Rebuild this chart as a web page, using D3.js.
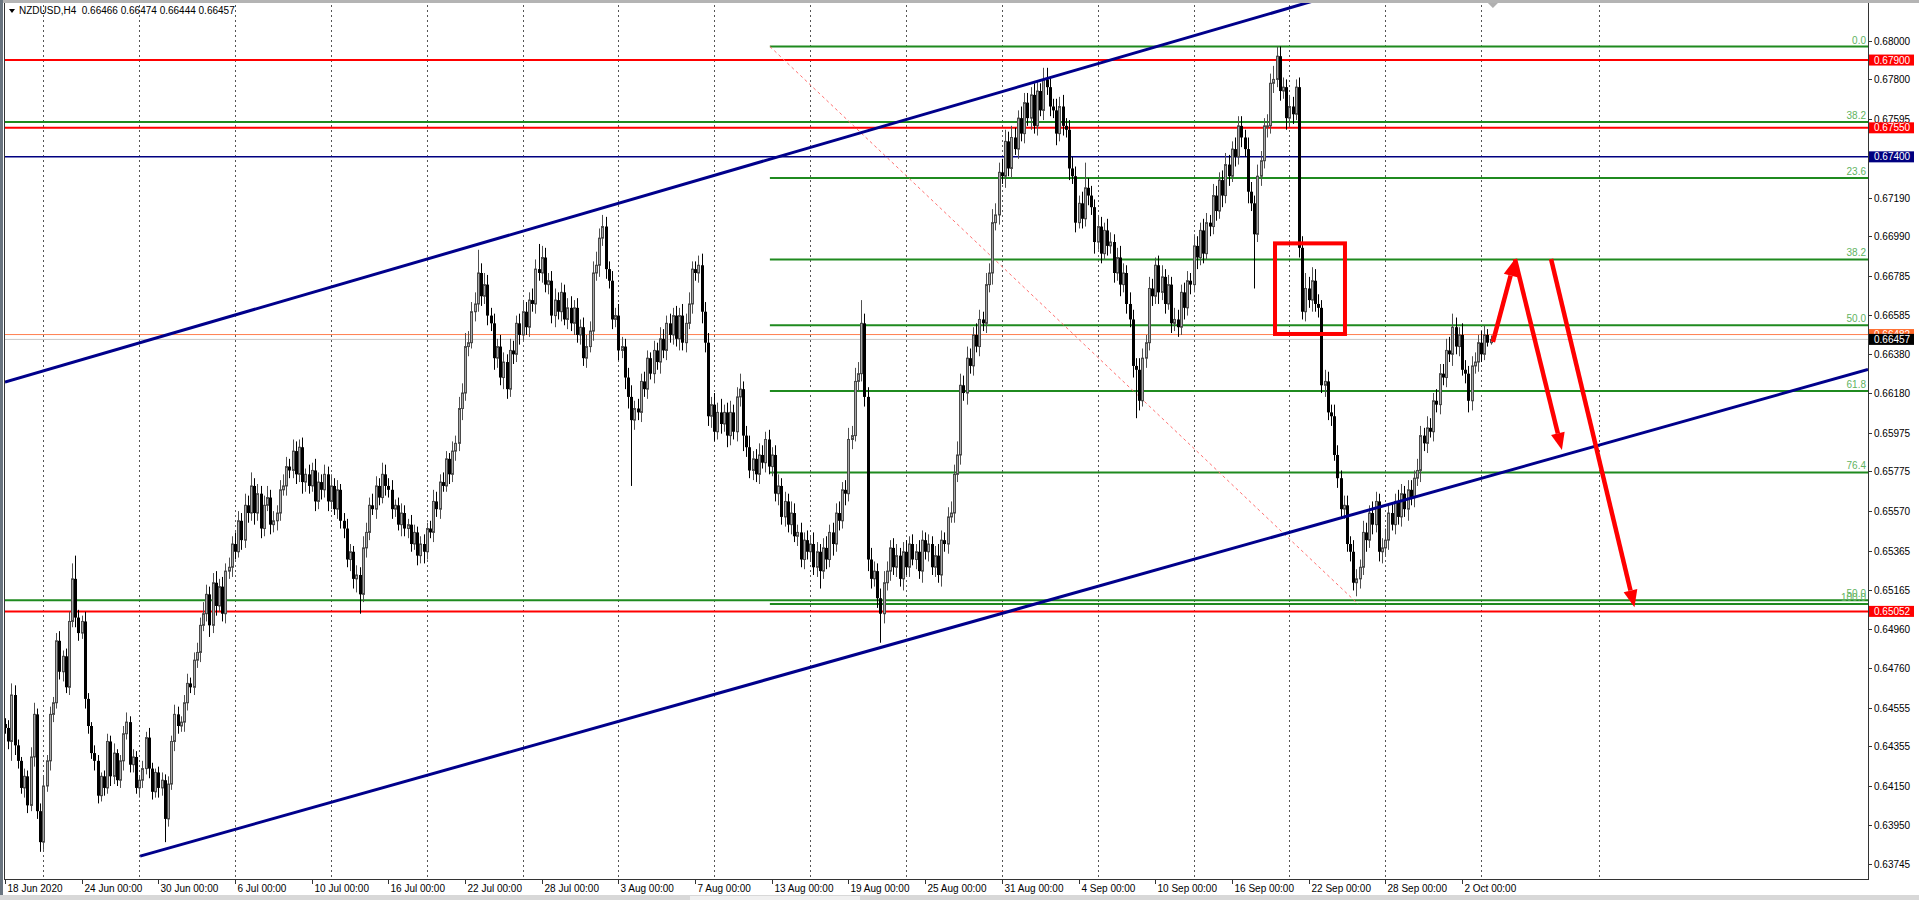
<!DOCTYPE html>
<html><head><meta charset="utf-8">
<script src="https://cdn.jsdelivr.net/npm/d3@7"></script>
<style>body{margin:0;background:#fff;overflow:hidden} text{font-family:"Liberation Sans",Arial,sans-serif}</style>
</head><body><svg id="c" width="1919" height="900"></svg>
<script>
// ---------------- DATA ----------------
const symbolTitle = "NZDUSD,H4  0.66466 0.66474 0.66444 0.66457";
const firstOpen = 6447; // pips (x 1e-4)
const closePips = [
6445,6438,6462,6436,6428,6414,6420,6405,6430,6452,
6402,6386,6415,6428,6452,6458,6490,6474,6482,6466,
6500,6522,6502,6494,6500,6460,6446,6432,6428,6410,
6420,6414,6438,6420,6432,6418,6428,6442,6448,6426,
6430,6414,6418,6424,6440,6424,6412,6422,6414,6418,
6398,6416,6438,6452,6446,6448,6458,6468,6466,6480,
6484,6498,6504,6514,6498,6520,6508,6518,6504,6526,
6528,6540,6536,6552,6542,6560,6556,6570,6556,6566,
6548,6560,6564,6550,6552,6556,6568,6570,6580,6578,
6588,6576,6590,6572,6576,6570,6578,6562,6572,6568,
6576,6562,6570,6558,6568,6552,6548,6532,6536,6522,
6524,6514,6538,6546,6560,6558,6570,6564,6576,6570,
6568,6558,6560,6550,6556,6548,6550,6540,6546,6534,
6540,6536,6548,6546,6562,6558,6572,6570,6584,6576,
6588,6592,6610,6618,6642,6644,6660,6664,6680,6668,
6674,6658,6654,6636,6642,6626,6634,6620,6640,6638,
6654,6648,6660,6652,6666,6664,6682,6680,6688,6674,
6676,6658,6666,6660,6670,6656,6662,6654,6662,6648,
6652,6636,6642,6650,6680,6684,6698,6704,6682,6676,
6656,6658,6640,6642,6626,6616,6604,6610,6608,6624,
6620,6636,6628,6640,6634,6646,6640,6654,6648,6658,
6646,6658,6644,6654,6664,6682,6680,6684,6660,6644,
6606,6612,6598,6608,6602,6608,6596,6608,6598,6616,
6620,6596,6590,6578,6584,6576,6586,6582,6594,6580,
6586,6566,6570,6554,6562,6550,6556,6544,6546,6532,
6542,6536,6540,6528,6536,6526,6538,6532,6546,6540,
6556,6552,6568,6566,6594,6596,6624,6628,6654,6616,
6532,6522,6526,6512,6504,6520,6526,6538,6528,6534,
6522,6536,6528,6540,6532,6536,6526,6542,6536,6540,
6528,6534,6524,6542,6540,6554,6556,6576,6586,6622,
6618,6636,6632,6648,6642,6656,6654,6674,6680,6706,
6710,6732,6730,6748,6734,6750,6744,6760,6752,6768,
6760,6772,6756,6774,6764,6780,6776,6766,6764,6752,
6766,6756,6754,6734,6730,6706,6716,6708,6724,6720,
6714,6696,6704,6690,6702,6694,6696,6680,6688,6674,
6680,6664,6656,6632,6630,6614,6636,6644,6672,6668,
6684,6670,6678,6664,6674,6654,6656,6652,6670,6662,
6676,6674,6694,6688,6702,6690,6706,6704,6720,6712,
6728,6720,6736,6730,6744,6740,6756,6750,6744,6722,
6716,6700,6730,6738,6756,6756,6778,6780,6792,6774,
6776,6760,6766,6762,6776,6693,6660,6672,6666,6676,
6664,6662,6622,6624,6608,6606,6586,6574,6558,6560,
6540,6536,6520,6522,6528,6546,6542,6556,6550,6562,
6536,6538,6542,6556,6550,6562,6554,6566,6558,6568,
6564,6574,6578,6596,6592,6600,6598,6614,6612,6628,
6626,6640,6638,6652,6642,6648,6630,6628,6614,6632,
6634,6644,6638,6648,6644,6645.7];
const wickUp = [
3,4,6,5,3,2,4,3,5,6, 3,4,5,3,4,3,4,5,3,4, 5,8,12,4,3,5,3,2,4,3, 2,3,4,3,5,2,3,4,5,3,
4,3,2,4,3,5,3,2,3,4, 3,4,3,5,4,3,4,5,3,4, 5,4,6,5,4,5,6,4,5,4, 5,4,6,5,4,6,5,7,4,5,
4,5,6,4,5,4,5,6,5,4, 6,5,4,5,3,5,4,6,5,4, 5,4,6,4,5,3,4,5,4,3, 5,4,6,5,4,6,5,4,6,5,
4,5,3,4,5,4,3,5,4,3, 4,5,3,4,6,5,4,5,4,3, 5,4,6,5,7,6,5,6,12,5, 6,5,4,5,4,6,5,4,6,5,
4,5,6,5,4,6,5,13,6,5, 4,5,6,4,5,4,5,6,4,5, 4,5,6,5,6,7,5,6,5,4, 5,4,6,5,4,5,6,4,5,4,
5,4,3,5,4,6,5,4,5,4, 5,4,6,5,6,4,4,5,6,5, 5,4,6,5,7,4,5,6,4,5, 8,4,5,6,4,5,6,5,4,5,
4,5,6,4,5,4,6,5,4,5, 4,5,4,6,5,4,5,6,4,5, 5,6,4,5,6,5,7,6,12,5, 5,6,5,4,5,6,5,4,5,6,
4,5,6,4,5,4,6,5,4,5, 4,5,6,5,4,5,6,5,7,6, 5,6,5,4,6,5,4,6,5,7, 6,5,7,6,5,6,5,4,6,5,
5,4,6,5,4,6,6,5,4,6, 5,6,4,5,6,5,4,6,13,5, 5,4,6,5,4,6,5,4,5,6, 5,4,6,5,4,6,5,4,6,5,
4,5,6,4,5,4,6,5,4,5, 5,4,6,5,4,6,5,4,6,5, 4,5,6,5,4,6,5,5,4,6, 5,4,6,5,4,6,5,7,5,5,
5,4,6,5,4,5,6,8,6,7, 6,5,4,6,5,4,6,5,4,5, 5,4,6,5,4,6,5,4,6,5, 4,5,6,4,5,4,6,5,4,5,
5,4,6,5,4,6,5,4,6,5, 5,6,7,7,5,4,6,5,4,5, 5,4,6,5,3,2];
const wickDn = [
3,4,10,5,4,3,5,4,3,5, 4,5,4,3,5,4,3,4,5,3, 4,3,5,4,3,5,4,3,5,4, 3,4,3,5,4,3,4,5,3,4,
4,3,5,4,3,5,4,3,5,4, 12,4,3,5,4,3,5,4,3,4, 4,5,3,4,6,4,5,3,4,5, 4,5,4,3,5,4,5,4,6,4,
5,4,3,5,4,5,4,3,5,4, 4,5,4,6,5,4,3,5,4,5, 4,5,4,3,5,4,5,4,6,5, 7,10,4,5,4,3,5,4,3,5,
4,5,4,3,6,4,5,4,3,5, 4,6,4,3,5,4,5,3,3,5, 4,5,4,6,4,5,3,5,4,5, 4,5,4,6,5,4,6,5,4,5,
4,5,3,4,5,4,5,4,5,4, 5,4,6,4,5,3,5,4,6,4, 5,4,5,3,5,4,6,4,5,4, 5,4,5,4,6,6,34,5,4,5,
4,5,3,5,4,6,4,5,4,5, 4,6,4,5,3,5,4,5,6,5, 5,6,5,4,5,4,6,5,4,5, 5,8,5,4,5,4,5,3,5,4,
5,4,6,4,5,4,5,3,5,4, 5,4,5,4,5,9,4,5,4,6, 4,5,4,6,4,5,3,5,4,5, 6,5,4,5,15,5,4,5,4,5,
4,6,4,5,3,5,4,6,4,5, 4,5,4,6,4,5,3,5,4,5, 4,6,4,5,3,5,4,5,4,6, 4,5,4,6,4,5,3,5,4,5,
4,6,4,5,3,5,4,5,4,6, 4,5,4,6,4,5,3,5,4,5, 4,6,4,5,3,5,4,5,4,6, 4,5,4,6,25,5,3,5,4,5,
4,6,4,5,3,5,4,5,4,6, 4,5,4,6,4,5,3,5,4,5, 4,6,4,5,3,5,4,5,4,6, 4,28,4,5,4,6,4,5,4,5,
4,6,4,5,3,5,4,5,4,6, 4,5,4,6,4,5,3,5,4,5, 4,5,4,7,5,4,6,4,5,4, 5,6,4,5,3,5,4,5,4,6,
4,5,4,6,4,5,3,5,4,5, 4,5,4,6,4,5,3,5,6,5, 4,5,4,3,2,1];

const dateLabels = ["18 Jun 2020","24 Jun 00:00","30 Jun 00:00","6 Jul 00:00","10 Jul 00:00","16 Jul 00:00",
  "22 Jul 00:00","28 Jul 00:00","3 Aug 00:00","7 Aug 00:00","13 Aug 00:00","19 Aug 00:00","25 Aug 00:00",
  "31 Aug 00:00","4 Sep 00:00","10 Sep 00:00","16 Sep 00:00","22 Sep 00:00","28 Sep 00:00","2 Oct 00:00"];
const dateLabelBars = [0,24,48,72,96,120,144,168,192,216,240,264,288,312,336,360,384,408,432,456];
const gridBars = [12,42,72,102,132,162,192,222,252,282,312,342,372,402,432,462,499];
const priceTicks = ["0.68000","0.67800","0.67595","0.67395","0.67190","0.66990","0.66785","0.66585","0.66380",
  "0.66180","0.65975","0.65775","0.65570","0.65365","0.65165","0.64960","0.64760","0.64555","0.64355",
  "0.64150","0.63950","0.63745"];

const hLinePrices = [0.67900, 0.67550, 0.67400, 0.65052, 0.66482, 0.66457];
const priceBoxValues = ["0.67900","0.67550","0.67400","0.66482","0.66457","0.65052"];

const fibLevels = [0, 23.6, 38.2, 50.0, 61.8, 76.4, 100.0];
const fibLevelText = ["0.0","23.6","38.2","50.0","61.8","76.4","100.0"];
const fibBars = [239.4, 423.5];
const fibPrices = [0.6797, 0.6509];
const fib2Prices = [0.67580, 0.65110];
const fib2Text = ["38.2","50.0"];

const upperChannelBars = [0, 406.3];
const upperChannelPrices = [0.66237, 0.68190];
const lowerChannelBars = [42.3, 583.1];
const lowerChannelPrices = [0.63788, 0.66302];

const boxBars = [397.5, 419.4];
const boxPrices = [0.66953, 0.66485];
const arrowFromBars = [465.7, 472.6, 483.9];
const arrowFromPrices = [0.66444, 0.66872, 0.66872];
const arrowToBars = [472.6, 487.3, 510.0];
const arrowToPrices = [0.66872, 0.65886, 0.65074];
const shiftBar = 465.7;

// ---------------- DRAW ----------------
const W = 1919, H = 900;
const L = 5, R = 1868, T = 5, B = 879;
const svg = d3.select("#c");
const x = d3.scaleLinear().domain([0, 583.1]).range([L, R]);
const y = d3.scaleLinear().domain([0.636696, 0.681844]).range([B, T]);

svg.append("rect").attr("width", W).attr("height", H).attr("fill", "#fff");
// window chrome
svg.append("rect").attr("x",0).attr("y",0).attr("width",W).attr("height",3).attr("fill","#b4b4b4");
svg.append("rect").attr("x",0).attr("y",0).attr("width",3).attr("height",H).attr("fill","#6a7580");
svg.append("rect").attr("x",0).attr("y",895).attr("width",W).attr("height",5).attr("fill","#d8d8d8");
svg.append("rect").attr("x",690).attr("y",896).attr("width",170).attr("height",4).attr("fill","#f0f0f0");

svg.append("defs").append("clipPath").attr("id","plot")
  .append("rect").attr("x",L).attr("y",T-2).attr("width",R-L).attr("height",B-T+2);
const g = svg.append("g").attr("clip-path","url(#plot)");

// grid
g.selectAll("line.grid").data(gridBars).join("line")
  .attr("x1", d=>Math.round(x(d))+0.5).attr("x2", d=>Math.round(x(d))+0.5)
  .attr("y1", T).attr("y2", B)
  .attr("stroke","#555").attr("stroke-width",1).attr("stroke-dasharray","2,3");

// horizontal level lines
const hStyles = [
  {c:"#ff0000",w:2},{c:"#ff0000",w:2},{c:"#000080",w:1.5},{c:"#ff0000",w:2},{c:"#ff7f50",w:1},{c:"#c8c8c8",w:1}];
hLinePrices.forEach((p,k)=>{
  g.append("line").attr("x1",L).attr("x2",R).attr("y1",y(p)).attr("y2",y(p))
    .attr("stroke",hStyles[k].c).attr("stroke-width",hStyles[k].w);
});

// fib 2 (full width)
fib2Prices.forEach(p=>{
  g.append("line").attr("x1",L).attr("x2",R).attr("y1",y(p)).attr("y2",y(p))
    .attr("stroke","#1f8a1f").attr("stroke-width",2);
});
// fib 1
const fibPrice = lv => fibPrices[0] + (fibPrices[1]-fibPrices[0])*lv/100;
fibLevels.forEach(lv=>{
  g.append("line").attr("x1",x(fibBars[0])).attr("x2",R).attr("y1",y(fibPrice(lv))).attr("y2",y(fibPrice(lv)))
    .attr("stroke","#1f8a1f").attr("stroke-width",2);
});
g.append("line").attr("x1",x(fibBars[0])).attr("y1",y(fibPrices[0]))
  .attr("x2",x(fibBars[1])).attr("y2",y(fibPrices[1]))
  .attr("stroke","#ff7070").attr("stroke-width",1).attr("stroke-dasharray","3,3");

// candles
const candles = closePips.map((c,i)=>{
  const o = i===0 ? firstOpen : closePips[i-1];
  return {i, o:o/1e4, c:c/1e4, h:(Math.max(o,c)+wickUp[i])/1e4, l:(Math.min(o,c)-wickDn[i])/1e4};
});
const cg = g.append("g");
candles.forEach(d=>{
  const cx = Math.round(x(d.i));
  const bull = d.c >= d.o;
  cg.append("line").attr("x1",cx+0.5).attr("x2",cx+0.5).attr("y1",y(d.h)).attr("y2",y(d.l))
    .attr("stroke", bull ? "#505050" : "#000").attr("stroke-width",1);
  const top = y(Math.max(d.o,d.c)), bot = y(Math.min(d.o,d.c));
  const hgt = Math.max(1, bot-top);
  if (bull) {
    cg.append("rect").attr("x",cx-0.5).attr("y",top).attr("width",2).attr("height",hgt)
      .attr("fill","#a8a8a8").attr("stroke","#4a4a4a").attr("stroke-width",1);
  } else {
    cg.append("rect").attr("x",cx-1).attr("y",top).attr("width",3).attr("height",hgt).attr("fill","#000");
  }
});

// channel lines
function extLine(bars, prices, b0, b1){
  const s = (prices[1]-prices[0])/(bars[1]-bars[0]);
  return [[x(b0), y(prices[0]+s*(b0-bars[0]))],[x(b1), y(prices[0]+s*(b1-bars[0]))]];
}
const up = extLine(upperChannelBars, upperChannelPrices, upperChannelBars[0], upperChannelBars[1]+3);
const lo = extLine(lowerChannelBars, lowerChannelPrices, lowerChannelBars[0], lowerChannelBars[1]);
[up, lo].forEach(pts=>{
  g.append("line").attr("x1",pts[0][0]).attr("y1",pts[0][1]).attr("x2",pts[1][0]).attr("y2",pts[1][1])
    .attr("stroke","#00008b").attr("stroke-width",3);
});

// red box
g.append("rect").attr("x",x(boxBars[0])).attr("y",y(boxPrices[0]))
  .attr("width",x(boxBars[1])-x(boxBars[0])).attr("height",y(boxPrices[1])-y(boxPrices[0]))
  .attr("fill","none").attr("stroke","#ff0000").attr("stroke-width",4);

// arrows
arrowFromBars.forEach((b,k)=>{
  const x1=x(b), y1=y(arrowFromPrices[k]), x2=x(arrowToBars[k]), y2=y(arrowToPrices[k]);
  const ang = Math.atan2(y2-y1, x2-x1);
  const hl = 17, hw = 7;
  const bx = x2 - hl*Math.cos(ang), by = y2 - hl*Math.sin(ang);
  g.append("line").attr("x1",x1).attr("y1",y1).attr("x2",bx).attr("y2",by)
    .attr("stroke","#ff0000").attr("stroke-width",4.5);
  const px = -Math.sin(ang), py = Math.cos(ang);
  g.append("path").attr("d",`M${x2},${y2}L${bx+px*hw},${by+py*hw}L${bx-px*hw},${by-py*hw}Z`).attr("fill","#ff0000");
});

// fib labels
const fibLab = svg.append("g").attr("font-size",10).attr("fill","#5fb35f").attr("text-anchor","end");
fibLevels.forEach((lv,k)=>{
  fibLab.append("text").attr("x",R-2).attr("y",y(fibPrice(lv))-3).text(fibLevelText[k]);
});
fib2Prices.forEach((p,k)=>{
  fibLab.append("text").attr("x",R-2).attr("y",y(p)-3).text(fib2Text[k]);
});

// frame / axes
svg.append("line").attr("x1",R+0.5).attr("x2",R+0.5).attr("y1",T-2).attr("y2",B+1).attr("stroke","#333");
svg.append("line").attr("x1",L-1).attr("x2",R+1).attr("y1",B+0.5).attr("y2",B+0.5).attr("stroke","#333");
svg.append("line").attr("x1",L-0.5).attr("x2",L-0.5).attr("y1",T-2).attr("y2",B+1).attr("stroke","#333");

// y ticks
const ya = svg.append("g").attr("font-size",10).attr("fill","#000");
priceTicks.forEach(t=>{
  const yy = Math.round(y(+t))+0.5;
  ya.append("line").attr("x1",R).attr("x2",R+4).attr("y1",yy).attr("y2",yy).attr("stroke","#333");
  ya.append("text").attr("x",R+6).attr("y",yy+3.5).text(t);
});
// x ticks
const xa = svg.append("g").attr("font-size",10).attr("fill","#000");
dateLabelBars.forEach((b,k)=>{
  const xx = Math.round(x(b))+0.5;
  xa.append("line").attr("x1",xx).attr("x2",xx).attr("y1",B).attr("y2",B+5).attr("stroke","#333");
  xa.append("text").attr("x",xx+2).attr("y",B+13).text(dateLabels[k]);
});

// price boxes
const boxColors = ["#ff0000","#ff0000","#000080","#ff6a2a","#000000","#ff0000"];
priceBoxValues.forEach((v,k)=>{
  const yy = y(+v);
  svg.append("rect").attr("x",R+1).attr("y",yy-5.5).attr("width",45).attr("height",11).attr("fill",boxColors[k]);
  svg.append("text").attr("x",R+6).attr("y",yy+3.5).attr("font-size",10).attr("fill","#fff").text(v);
});

// header
svg.append("path").attr("d","M9,9L15,9L12,13Z").attr("fill","#000");
svg.append("text").attr("x",19).attr("y",14).attr("font-size",10).attr("fill","#000")
  .attr("xml:space","preserve").style("white-space","pre").text(symbolTitle);
// chart shift marker
const sx = x(shiftBar);
svg.append("path").attr("d",`M${sx-5},3L${sx+5},3L${sx},8Z`).attr("fill","#b0b0b0");
</script></body></html>
